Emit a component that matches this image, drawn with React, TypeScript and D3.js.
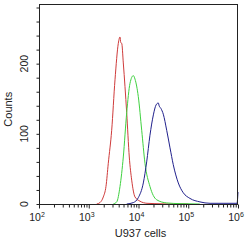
import * as d3 from "d3";
import { useEffect, useRef } from "react";

// fluorescence intensity (x) and cell counts (y)
const redX = [1445, 1680, 1960, 2220, 2470, 2890, 3370, 3930, 4250, 4400, 4600, 4950, 5790, 6530, 7300, 8510, 10700, 14800, 21400, 40000, 100000];
const redY = [0, 2, 10, 25, 58, 105, 177, 229, 238, 230, 229, 201, 130, 67, 34, 10, 4, 1, 0.5, 0, 0];

const greenX = [3110, 3650, 4250, 4950, 5790, 6750, 7860, 8500, 9910, 11600, 13500, 17000, 23200, 36900, 68200, 170000];
const greenY = [0, 3, 25, 67, 130, 172, 183, 178, 153, 105, 58, 25, 6, 1.5, 0.5, 0];

const blueX = [5790, 7860, 9910, 12500, 14600, 17000, 19900, 22500, 25000, 26000, 28300, 31500, 36900, 43000, 50000, 63100, 79500, 108000, 172000, 274000, 500000, 955000, 1000000];
const blueY = [0, 2, 9, 30, 60, 98, 127, 141, 144, 140, 136, 128, 105, 80, 56, 30, 16, 8, 3, 1, 1, 1, 17];

const decades = [2, 3, 4, 5, 6];
const yLabels = [0, 100, 200];

const series = [
  { xs: redX, ys: redY, color: "#cf3b3b" },
  { xs: greenX, ys: greenY, color: "#3fd140" },
  { xs: blueX, ys: blueY, color: "#20208c" },
];

const App = () => {
  const ref = useRef(null);
  const width = 250;
  const height = 241;
  const margin = { top: 4, right: 12, bottom: 37, left: 39 };

  useEffect(() => {
    const svg = d3.select(ref.current);
    svg.selectAll("*").remove();

    const x = d3.scaleLog().domain([1e2, 1e6]).range([margin.left, width - margin.right]);
    const y = d3.scaleLinear().domain([0, 285]).range([height - margin.bottom, margin.top]);

    const font = "Liberation Sans, Arial, sans-serif";

    // кривые
    const gen = d3
      .line<[number, number]>()
      .x((d) => x(d[0]))
      .y((d) => y(d[1]))
      .curve(d3.curveMonotoneX);

    series.forEach((s) => {
      const pts: [number, number][] = s.xs.map((v, i) => [v, s.ys[i]]);
      svg.append("path")
        .attr("d", gen(pts))
        .attr("fill", "none")
        .attr("stroke", s.color)
        .attr("stroke-width", 1);
    });

    // рамка
    svg.append("rect")
      .attr("x", margin.left + 0.5)
      .attr("y", margin.top + 0.5)
      .attr("width", width - margin.left - margin.right - 1)
      .attr("height", height - margin.top - margin.bottom)
      .attr("fill", "none")
      .attr("stroke", "#222")
      .attr("stroke-width", 1);

    // ось X
    const minor: number[] = [];
    decades.slice(0, -1).forEach((d) => {
      for (let k = 2; k <= 9; k++) minor.push(k * Math.pow(10, d));
    });
    const xAxis = d3.axisBottom(x).tickValues(minor).tickSize(3).tickFormat(() => "");
    const gx = svg.append("g")
      .attr("transform", `translate(0, ${height - margin.bottom + 0.5})`)
      .call(xAxis);
    gx.select(".domain").remove();
    const xMajor = d3.axisBottom(x).tickValues(decades.map((d) => Math.pow(10, d))).tickSize(4).tickFormat(() => "");
    const gx2 = svg.append("g")
      .attr("transform", `translate(0, ${height - margin.bottom + 0.5})`)
      .call(xMajor);
    gx2.select(".domain").remove();

    decades.forEach((d) => {
      const t = svg.append("text")
        .attr("x", x(Math.pow(10, d)) - 2)
        .attr("y", 221)
        .attr("text-anchor", "middle")
        .style("font-family", font)
        .style("font-size", "10.5px")
        .attr("fill", "#222");
      t.append("tspan").text("10");
      t.append("tspan").attr("dy", -4).style("font-size", "7px").text(String(d));
    });

    svg.append("text")
      .attr("x", x(1e4) + 2)
      .attr("y", 237)
      .attr("text-anchor", "middle")
      .style("font-family", font)
      .style("font-size", "11px")
      .attr("fill", "#222")
      .text("U937 cells");

    // ось Y
    const yAxis = d3.axisLeft(y).tickValues(d3.range(0, 281, 20)).tickSize(3).tickFormat(() => "");
    const gy = svg.append("g")
      .attr("transform", `translate(${margin.left + 0.5}, 0)`)
      .call(yAxis);
    gy.select(".domain").remove();

    yLabels.forEach((v) => {
      svg.append("text")
        .attr("transform", `translate(27.5, ${y(v)}) rotate(-90)`)
        .attr("text-anchor", "middle")
        .style("font-family", font)
        .style("font-size", "10.5px")
        .attr("fill", "#222")
        .text(String(v));
    });

    svg.append("text")
      .attr("transform", `translate(11.5, ${y(135)}) rotate(-90)`)
      .attr("text-anchor", "middle")
      .style("font-family", font)
      .style("font-size", "11px")
      .attr("fill", "#222")
      .text("Counts");

    svg.selectAll(".tick line").attr("stroke", "#222");
  }, []);

  return (
    <div style={{ position: "absolute", left: 0, top: 0, background: "#fff" }}>
      <svg ref={ref} width={width} height={height} style={{ display: "block" }}></svg>
    </div>
  );
};

export default App;
